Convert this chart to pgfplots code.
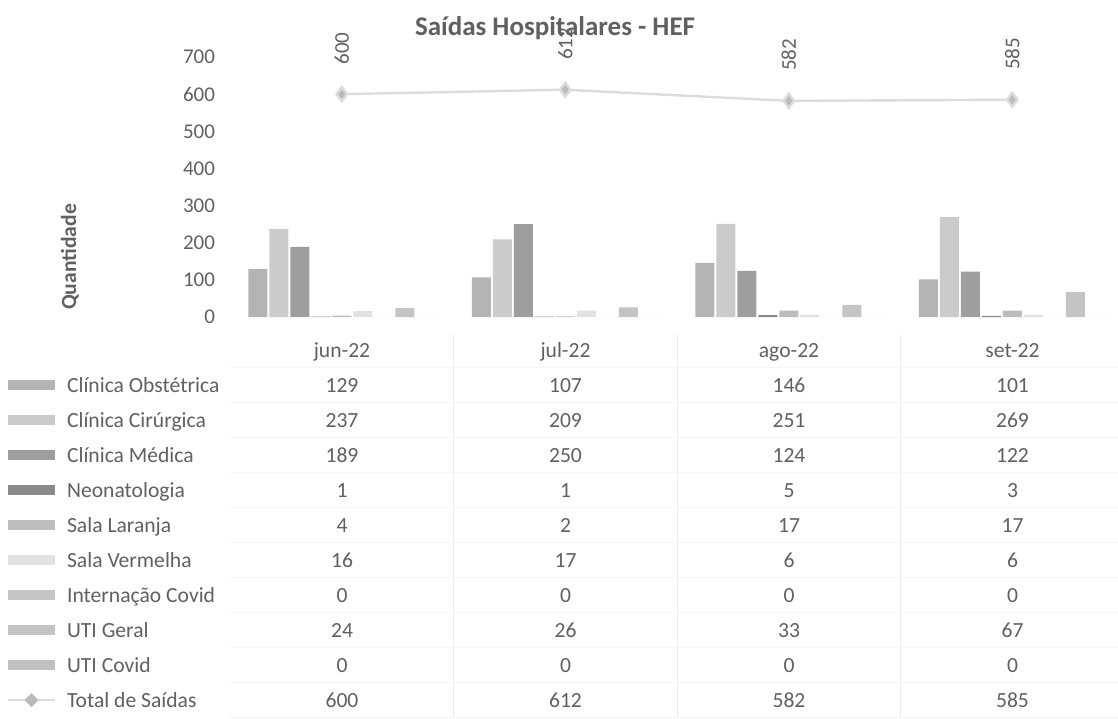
\documentclass[border=0pt]{standalone}
\usepackage{fontspec}
\setmainfont{Carlito}
\usepackage{pgfplots}
\pgfplotsset{compat=1.18}
\usepackage{pgfplotstable}

\definecolor{txt}{HTML}{606060}
\definecolor{cObs}{HTML}{B4B4B4}
\definecolor{cCir}{HTML}{CBCBCB}
\definecolor{cMed}{HTML}{9E9E9E}
\definecolor{cNeo}{HTML}{8A8A8A}
\definecolor{cLar}{HTML}{BDBDBD}
\definecolor{cVer}{HTML}{E2E2E2}
\definecolor{cInt}{HTML}{C6C6C6}
\definecolor{cUti}{HTML}{C4C4C4}
\definecolor{cUtc}{HTML}{C0C0C0}
\definecolor{cTot}{HTML}{DCDCDC}

% saidas por mes (jun-22 .. set-22)
\pgfplotstableread{
x obs cir med neo lar ver int uti utic tot
0 129 237 189 1 4 16 0 24 0 600
1 107 209 250 1 2 17 0 26 0 612
2 146 251 124 5 17 6 0 33 0 582
3 101 269 122 3 17 6 0 67 0 585
}\dados

\begin{document}
\begin{tikzpicture}
\begin{axis}[
  at={(115pt,-158.5pt)}, anchor=south west,
  scale only axis, width=447pt, height=130pt,
  xmin=-0.5, xmax=3.5, ymin=0, ymax=700,
  ytick={0,100,...,700}, xtick=\empty,
  axis line style={draw=none}, major tick length=0pt,
  ybar=1pt, bar width=9.5pt, clip=false,
  /pgf/number format/assume math mode=true,
  yticklabel style={text=txt, font=\fontsize{10.5}{12}\selectfont, xshift=-4pt},
]
\addplot[fill=cObs, draw=none] table[x=x, y=obs] {\dados};
\addplot[fill=cCir, draw=none] table[x=x, y=cir] {\dados};
\addplot[fill=cMed, draw=none] table[x=x, y=med] {\dados};
\addplot[fill=cNeo, draw=none] table[x=x, y=neo] {\dados};
\addplot[fill=cLar, draw=none] table[x=x, y=lar] {\dados};
\addplot[fill=cVer, draw=none] table[x=x, y=ver] {\dados};
\addplot[fill=cInt, draw=none] table[x=x, y=int] {\dados};
\addplot[fill=cUti, draw=none] table[x=x, y=uti] {\dados};
\addplot[fill=cUtc, draw=none] table[x=x, y=utic] {\dados};
\addplot[sharp plot, draw=cTot, line width=1.2pt, mark=diamond*, mark size=3.5pt,
  mark options={fill=cTot!85!black, draw=none},
  nodes near coords,
  every node near coord/.append style={yshift=11pt, rotate=90, anchor=west,
    text=txt, font=\fontsize{10.5}{12}\selectfont}]
  table[x=x, y=tot] {\dados};
\end{axis}

\begin{scope}[x=0.5pt, y=-0.5pt, text=txt, font=\fontsize{10.8}{13}\selectfont]
  \node[font=\fontsize{13.5}{16}\selectfont\bfseries] at (555,28) {Saídas Hospitalares - HEF};
  \node[rotate=90, font=\fontsize{10.8}{13}\selectfont\bfseries] at (70,257) {Quantidade};
  % grade da tabela
  \foreach \k in {0,1,2}
    \draw[black!8] (342+223.5*\k+111.75,335) -- (342+223.5*\k+111.75,718);
  \foreach \r in {0,...,10}
    \draw[black!4] (230,367+35*\r) -- (1118,367+35*\r);
  \foreach \m [count=\k from 0] in {jun-22,jul-22,ago-22,set-22}
    \node[anchor=base] at (342+223.5*\k,357) {\m};
  \foreach \col/\nome/\cor [count=\r from 0] in {obs/Clínica Obstétrica/cObs,
      cir/Clínica Cirúrgica/cCir, med/Clínica Médica/cMed, neo/Neonatologia/cNeo,
      lar/Sala Laranja/cLar, ver/Sala Vermelha/cVer, int/Internação Covid/cInt,
      uti/UTI Geral/cUti, utic/UTI Covid/cUtc, tot/Total de Saídas/cTot} {
    \ifnum\r<9
      \fill[\cor] (8,385+35*\r-5) rectangle (55,385+35*\r+5);
    \else
      \draw[cTot, line width=1.2pt] (8,385+35*\r) -- (55,385+35*\r);
      \fill[cTot!85!black] (31.5,385+35*\r-7) -- (38.5,385+35*\r) -- (31.5,385+35*\r+7) -- (24.5,385+35*\r) -- cycle;
    \fi
    \node[anchor=base west] at (60,392+35*\r) {\nome};
    \foreach \k in {0,...,3} {
      \pgfplotstablegetelem{\k}{\col}\of\dados
      \node[anchor=base] at (342+223.5*\k,392+35*\r) {\pgfplotsretval};
    }
  }
  \pgfresetboundingbox
  \path[use as bounding box] (0,0) rectangle (1118,718);
\end{scope}
\end{tikzpicture}
\end{document}
